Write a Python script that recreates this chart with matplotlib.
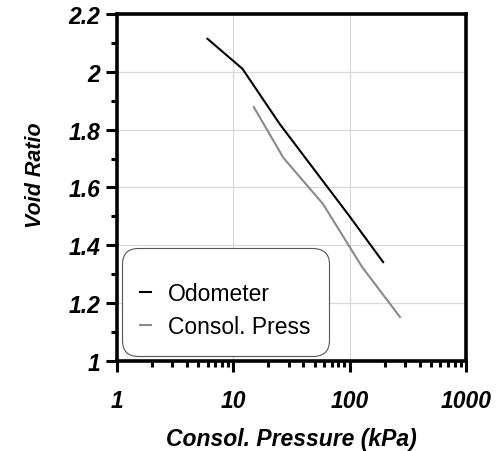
import matplotlib
matplotlib.use('Agg')
import matplotlib.pyplot as plt
from matplotlib.ticker import FixedLocator, LogLocator, MultipleLocator, FuncFormatter, NullFormatter

plt.rcParams['font.family'] = ['Liberation Sans', 'DejaVu Sans']

# Odometer curve
odo_pressure = [6, 12, 25, 50, 100, 194]
odo_void = [2.114, 2.01, 1.82, 1.66, 1.50, 1.342]

# Consolidation press curve
cp_pressure = [15, 27, 59, 128, 271]
cp_void = [1.878, 1.702, 1.543, 1.325, 1.152]

x_ticks = [1, 10, 100, 1000]
y_ticks = [1, 1.2, 1.4, 1.6, 1.8, 2, 2.2]

fig = plt.figure(figsize=(5.01, 4.52), dpi=100)
ax = fig.add_axes([0.2335, 0.199, 0.6966, 0.768])

ax.plot(odo_pressure, odo_void, color='black', lw=1.5, label='Odometer')
ax.plot(cp_pressure, cp_void, color='#8a8a8a', lw=1.5, label='Consol. Press')

ax.set_xscale('log')
ax.set_xlim(1, 1000)
ax.set_ylim(1, 2.2)

ax.xaxis.set_major_locator(FixedLocator(x_ticks))
ax.xaxis.set_minor_locator(LogLocator(base=10, subs=range(2, 10)))
ax.xaxis.set_major_formatter(FuncFormatter(lambda v, p: '%g' % v))
ax.xaxis.set_minor_formatter(NullFormatter())
ax.yaxis.set_major_locator(FixedLocator(y_ticks))
ax.yaxis.set_minor_locator(MultipleLocator(0.1))
ax.yaxis.set_major_formatter(FuncFormatter(lambda v, p: '%g' % round(v, 1)))

ax.grid(True, which='major', color='#d9d9d9', lw=0.9)
ax.set_axisbelow(True)

for s in ax.spines.values():
    s.set_linewidth(2.6)
    s.set_color('black')

ax.tick_params(axis='both', which='major', direction='out', length=8, width=2.2,
               labelsize=16.5)
ax.tick_params(axis='both', which='minor', direction='out', length=4, width=2.2)
ax.tick_params(axis='x', which='major', pad=12)
ax.tick_params(axis='y', which='major', pad=4)
for lab in ax.get_xticklabels() + ax.get_yticklabels():
    lab.set_fontweight('bold')
    lab.set_fontstyle('italic')

ax.set_xlabel('Consol. Pressure (kPa)', fontsize=16.5, fontweight='bold',
              fontstyle='italic', labelpad=11)
ax.set_ylabel('Void Ratio', fontsize=15.5, fontweight='bold',
              fontstyle='italic')
ax.yaxis.set_label_coords(-0.203, 0.539)

leg = ax.legend(loc='lower left', bbox_to_anchor=(0.014, 0.014), borderaxespad=0,
                fontsize=16.5, handlelength=0.45, handletextpad=0.75,
                borderpad=0.8, labelspacing=0.45, fancybox=True, framealpha=1,
                title=' ', title_fontsize=3.5)
frame = leg.get_frame()
frame.set_boxstyle('round,pad=0,rounding_size=0.7')
frame.set_edgecolor('#555555')
frame.set_linewidth(0.8)

fig.savefig('out.png', dpi=100)
